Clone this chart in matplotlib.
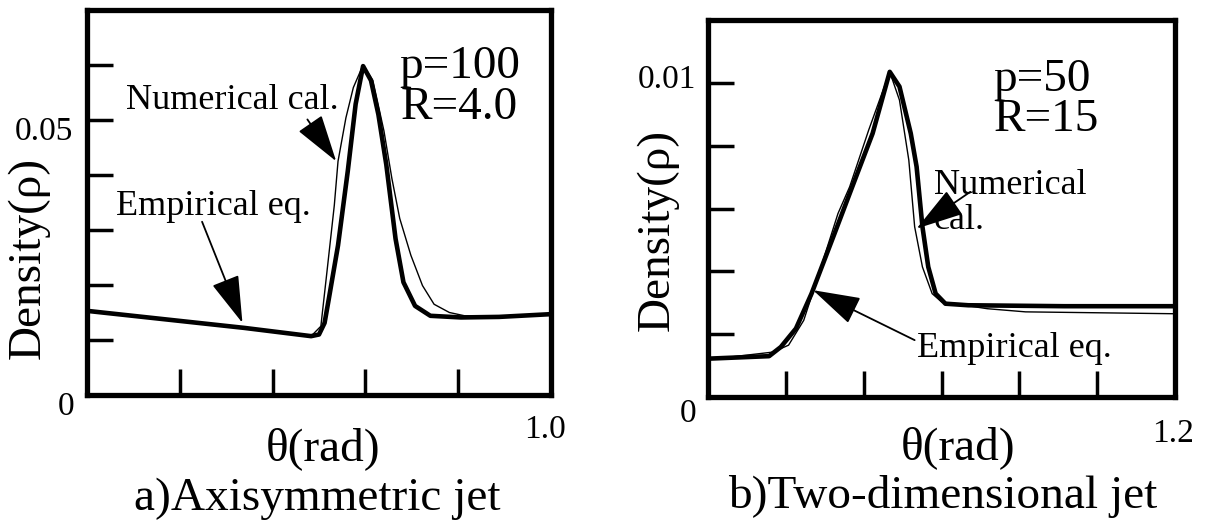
import numpy as np
import matplotlib.pyplot as plt

plt.rcParams['font.family'] = ['Liberation Serif', 'DejaVu Serif']

# a) axisymmetric jet, p=100, R=4.0
a_theta_emp = [0.0, 0.339, 0.483, 0.500, 0.512, 0.521, 0.541, 0.562, 0.579, 0.595,
               0.612, 0.628, 0.645, 0.665, 0.682, 0.707, 0.740, 0.806, 0.888, 1.0]
a_rho_emp = [0.0153, 0.0122, 0.0107, 0.0110, 0.0131, 0.0174, 0.0272, 0.0407, 0.0529, 0.0598,
             0.0572, 0.0510, 0.0419, 0.0284, 0.0205, 0.0162, 0.0144, 0.0141, 0.0142, 0.0147]
a_theta_num = [0.0, 0.339, 0.483, 0.504, 0.517, 0.533, 0.541, 0.558, 0.574, 0.595,
               0.616, 0.640, 0.657, 0.674, 0.698, 0.723, 0.748, 0.781, 0.814, 0.888, 1.0]
a_rho_num = [0.0153, 0.0122, 0.0107, 0.0125, 0.0223, 0.0345, 0.0425, 0.0504, 0.0559, 0.0600,
             0.0572, 0.0480, 0.0394, 0.0321, 0.0254, 0.0199, 0.0165, 0.0150, 0.0144, 0.0142, 0.0147]

# b) two-dimensional jet, p=50, R=15
b_theta_emp = [0.0, 0.157, 0.187, 0.226, 0.266, 0.325, 0.374, 0.423, 0.467, 0.492,
               0.521, 0.536, 0.551, 0.566, 0.585, 0.610, 0.669, 0.915, 1.2]
b_rho_emp = [0.00122, 0.00130, 0.00159, 0.00218, 0.00329, 0.00520, 0.00680, 0.00839, 0.01035, 0.00988,
             0.00839, 0.00733, 0.00542, 0.00414, 0.00329, 0.00297, 0.00292, 0.00289, 0.00289]
b_theta_num = [0.0, 0.167, 0.207, 0.246, 0.285, 0.334, 0.364, 0.413, 0.467, 0.492,
               0.516, 0.531, 0.551, 0.576, 0.600, 0.718, 0.816, 1.2]
b_rho_num = [0.00119, 0.00143, 0.00165, 0.00244, 0.00393, 0.00584, 0.00669, 0.00850, 0.01035, 0.00945,
             0.00754, 0.00542, 0.00414, 0.00329, 0.00303, 0.00281, 0.00271, 0.00265]

W, H = 1214, 527
fig = plt.figure(figsize=(W / 100, H / 100), dpi=100)
ax1 = fig.add_axes([87 / W, 1 - 395 / H, 464 / W, 385 / H])
ax2 = fig.add_axes([708 / W, 1 - 397 / H, 467 / W, 377 / H])

big = 34
ylab = 34
ann = 26
tick = 24


def style(ax, xmax, ymax, xticks, yticks):
    ax.set_xlim(0, xmax)
    ax.set_ylim(0, ymax)
    ax.set_xticks(xticks)
    ax.set_yticks(yticks)
    ax.tick_params(direction='in', length=19, width=2.5, labelleft=False, labelbottom=False)
    for s in ax.spines.values():
        s.set_linewidth(3.8)


def arrow(ax, tip, tail):
    ax.annotate('', xy=tip, xytext=tail,
                arrowprops=dict(arrowstyle='-|>,head_length=1.2,head_width=0.36', lw=1.3,
                                color='k', mutation_scale=25, shrinkA=0, shrinkB=0))


# panel a
ax1.plot(a_theta_num, a_rho_num, color='k', lw=1.0)
ax1.plot(a_theta_emp, a_rho_emp, color='k', lw=3.3, solid_capstyle='butt')
style(ax1, 1.0, 0.07, [0.2, 0.4, 0.6, 0.8], [0.01, 0.02, 0.03, 0.04, 0.05, 0.06])
ax1.text(-0.03, 0.0478, '0.05', transform=ax1.get_yaxis_transform(), ha='right', va='center', fontsize=tick)
ax1.text(-0.028, -0.03, '0', transform=ax1.transAxes, ha='right', va='center', fontsize=tick)
ax1.text(0.988, -0.091, '1.0', transform=ax1.transAxes, ha='center', va='center', fontsize=tick)
ax1.text(0.508, -0.14, 'θ(rad)', transform=ax1.transAxes, ha='center', va='center', fontsize=big)
ax1.text(0.496, -0.27, 'a)Axisymmetric jet', transform=ax1.transAxes, ha='center', va='center', fontsize=big)
ax1.text(-0.127, 0.355, 'Density(ρ)', transform=ax1.transAxes, ha='center', va='center',
         rotation=90, fontsize=ylab)
ax1.text(0.674, 0.0596, 'p=100', ha='left', va='center', fontsize=big)
ax1.text(0.676, 0.0523, 'R=4.0', ha='left', va='center', fontsize=big)
ax1.text(0.083, 0.0535, 'Numerical cal.', ha='left', va='center', fontsize=ann)
ax1.text(0.062, 0.0342, 'Empirical eq.', ha='left', va='center', fontsize=ann)
arrow(ax1, (0.537, 0.0425), (0.475, 0.0501))
arrow(ax1, (0.335, 0.0131), (0.248, 0.0315))

# panel b
ax2.plot(b_theta_num, b_rho_num, color='k', lw=1.0)
ax2.plot(b_theta_emp, b_rho_emp, color='k', lw=3.3, solid_capstyle='butt')
style(ax2, 1.2, 0.012, [0.2, 0.4, 0.6, 0.8, 1.0], [0.002, 0.004, 0.006, 0.008, 0.010])
ax2.text(-0.025, 0.0101, '0.01', transform=ax2.get_yaxis_transform(), ha='right', va='center', fontsize=tick)
ax2.text(-0.025, -0.045, '0', transform=ax2.transAxes, ha='right', va='center', fontsize=tick)
ax2.text(1.041, -0.098, '1.2', transform=ax2.transAxes, ha='right', va='center', fontsize=tick)
ax2.text(0.535, -0.135, 'θ(rad)', transform=ax2.transAxes, ha='center', va='center', fontsize=big)
ax2.text(0.503, -0.265, 'b)Two-dimensional jet', transform=ax2.transAxes, ha='center', va='center', fontsize=big)
ax2.text(-0.108, 0.443, 'Density(ρ)', transform=ax2.transAxes, ha='center', va='center',
         rotation=90, fontsize=ylab)
ax2.text(0.733, 0.0101, 'p=50', ha='left', va='center', fontsize=big)
ax2.text(0.733, 0.00881, 'R=15', ha='left', va='center', fontsize=big)
ax2.text(0.58, 0.00618, 'Numerical\ncal.', ha='left', va='center', fontsize=ann, linespacing=1.1)
ax2.text(0.536, 0.00154, 'Empirical eq.', ha='left', va='center', fontsize=ann)
arrow(ax2, (0.536, 0.00536), (0.674, 0.00653))
arrow(ax2, (0.270, 0.00340), (0.531, 0.00181))

fig.savefig('out.png', dpi=100)
